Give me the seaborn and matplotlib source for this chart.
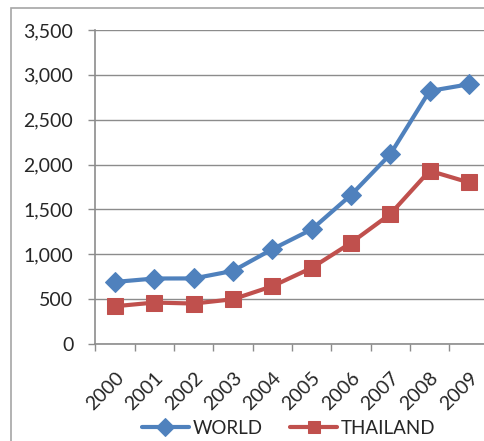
import numpy as np
import pandas as pd
import matplotlib
matplotlib.use("Agg")
import matplotlib.pyplot as plt
import matplotlib.patches as patches
import seaborn as sns

years = ["2000", "2001", "2002", "2003", "2004", "2005", "2006", "2007", "2008", "2009"]
world = [692, 730, 731, 815, 1057, 1277, 1660, 2114, 2820, 2895]
thailand = [421, 462, 451, 499, 644, 848, 1127, 1448, 1931, 1801]

sns.set_style("white")
plt.rcParams['font.family'] = ['Lato', 'DejaVu Sans']

BLUE = "#4F81BD"
RED = "#C0504D"
GRID = "#8C8C8C"

df = pd.DataFrame({"year": years, "WORLD": world, "THAILAND": thailand})

fig = plt.figure(figsize=(4.85, 4.41), dpi=100)
ax = fig.add_axes([95.5/485, 1-344/441, 393/485, (344-30)/441])

# outer chart frame (cropped at right/bottom)
frame = patches.Rectangle((11/485, -0.1), 1.2, 1-7.5/441+0.1, transform=fig.transFigure,
                          fill=False, edgecolor="#A6A6A6", lw=1.2, clip_on=False)
fig.patches.append(frame)

sns.lineplot(data=df, x="year", y="WORLD", ax=ax, color=BLUE, lw=3, marker="D",
             markersize=10, markeredgecolor=BLUE, label="WORLD")
sns.lineplot(data=df, x="year", y="THAILAND", ax=ax, color=RED, lw=3, marker="s",
             markersize=11, markeredgecolor=RED, label="THAILAND")

ax.set_xlim(-0.5, 9.5)
ax.set_ylim(0, 3500)
ax.set_yticks(np.arange(0, 3501, 500))
ax.set_yticklabels([f"{v:,}" for v in range(0, 3501, 500)])
ax.yaxis.grid(True, color=GRID, lw=1)
ax.set_axisbelow(True)
ax.set_xlabel("")
ax.set_ylabel("")

for s in ["top", "right"]:
    ax.spines[s].set_visible(False)
for s in ["left", "bottom"]:
    ax.spines[s].set_color(GRID)
    ax.spines[s].set_linewidth(1.2)

ax.tick_params(axis="y", which="major", length=5, width=1, color=GRID, pad=11,
               labelsize=14, left=True)
ax.set_xticks(np.arange(-0.5, 10, 1), minor=True)
ax.tick_params(axis="x", which="minor", length=5, width=1, color=GRID, bottom=True)
ax.tick_params(axis="x", which="major", length=0, pad=18, labelsize=14)
for lbl in ax.get_xticklabels():
    lbl.set_rotation(45)
    lbl.set_ha("right")
    lbl.set_va("top")
    lbl.set_rotation_mode("anchor")

handles, labels = ax.get_legend_handles_labels()
ax.get_legend().remove()
leg = fig.legend(handles, labels, loc="center", bbox_to_anchor=(0.595, 1-428/441), ncol=2,
                 frameon=False, fontsize=13.5, handlelength=2.5, handletextpad=0.2,
                 columnspacing=1.5, borderaxespad=0)
for h in leg.legend_handles:
    h.set_markersize(9)

fig.savefig("out.png", dpi=100)
